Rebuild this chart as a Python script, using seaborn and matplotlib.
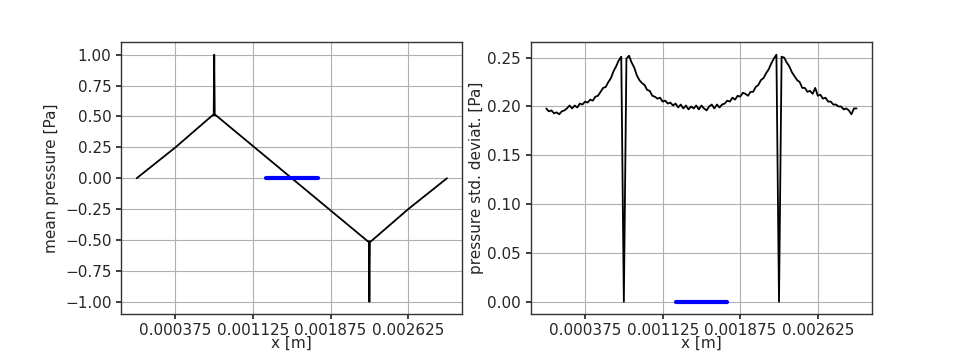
import numpy as np
import seaborn as sns
import matplotlib
matplotlib.use("Agg")
import matplotlib.pyplot as plt

# mean pressure along x (left panel)
mean_x = [0.0, 0.000375, 0.00072, 0.000735, 0.000745, 0.00075, 0.000755, 0.000765, 0.00078,
          0.0015, 0.00222, 0.002235, 0.002245, 0.00225, 0.002255, 0.002265, 0.00228, 0.002625, 0.003]
mean_p = [0.0, 0.25, 0.50, 0.51, 0.51, 1.0, 0.51, 0.51, 0.50,
          0.0, -0.50, -0.51, -0.51, -1.0, -0.51, -0.51, -0.50, -0.25, 0.0]

# pressure std. deviation, sampled every 0.000025 m from 0 to 0.003 m (right panel)
std_p = [0.198, 0.195, 0.196, 0.193, 0.194, 0.192, 0.195, 0.196, 0.198, 0.201,
         0.198, 0.201, 0.199, 0.203, 0.202, 0.205, 0.204, 0.207, 0.206, 0.210,
         0.211, 0.215, 0.219, 0.220, 0.225, 0.229, 0.236, 0.241, 0.247, 0.251,
         0.000, 0.249, 0.252, 0.245, 0.240, 0.232, 0.227, 0.224, 0.222, 0.217,
         0.216, 0.211, 0.210, 0.208, 0.209, 0.205, 0.206, 0.203, 0.204, 0.201,
         0.203, 0.199, 0.202, 0.198, 0.201, 0.197, 0.200, 0.198, 0.201, 0.197,
         0.201, 0.198, 0.196, 0.200, 0.202, 0.198, 0.202, 0.199, 0.202, 0.203,
         0.206, 0.205, 0.209, 0.207, 0.211, 0.210, 0.214, 0.213, 0.211, 0.215,
         0.215, 0.220, 0.222, 0.227, 0.229, 0.234, 0.238, 0.244, 0.249, 0.253,
         0.000, 0.251, 0.250, 0.245, 0.241, 0.235, 0.231, 0.227, 0.225, 0.219,
         0.219, 0.215, 0.216, 0.213, 0.219, 0.211, 0.212, 0.208, 0.209, 0.205,
         0.205, 0.202, 0.202, 0.200, 0.200, 0.197, 0.198, 0.196, 0.192, 0.198,
         0.198]
std_x = np.linspace(0.0, 0.003, len(std_p))

# blue marker segment
seg_x = [0.00125, 0.00175]
seg_y = [0.0, 0.0]

xticks = [0.000375, 0.001125, 0.001875, 0.002625]
xtick_labels = ["0.000375", "0.001125", "0.001875", "0.002625"]


def main():
    sns.set_theme(style="ticks", rc={
        "axes.grid": True,
        "grid.color": "#b0b0b0",
        "grid.linewidth": 0.8,
        "axes.edgecolor": "#333333",
        "axes.linewidth": 1.0,
        "xtick.labelsize": 11,
        "ytick.labelsize": 11,
        "axes.labelsize": 11,
        "xtick.major.size": 3.5,
        "ytick.major.size": 3.5,
    })
    plt.rcParams["font.family"] = ["DejaVu Sans"]

    fig, axes = plt.subplots(1, 2, figsize=(9.69, 3.53), dpi=100)
    fig.subplots_adjust(left=0.125, right=0.9, bottom=0.11, top=0.88, wspace=0.2)

    # %% left: mean pressure
    ax = axes[0]
    sns.lineplot(x=mean_x, y=mean_p, ax=ax, color="black", lw=1.3, estimator=None, sort=False)
    sns.lineplot(x=seg_x, y=seg_y, ax=ax, color="blue", lw=3, estimator=None)
    ax.set_yticks([-1.0, -0.75, -0.5, -0.25, 0.0, 0.25, 0.5, 0.75, 1.0])
    ax.set_ylabel("mean pressure [Pa]")

    # %% right: std deviation
    ax = axes[1]
    sns.lineplot(x=std_x, y=std_p, ax=ax, color="black", lw=1.3, estimator=None, sort=False)
    sns.lineplot(x=seg_x, y=seg_y, ax=ax, color="blue", lw=3, estimator=None)
    ax.set_yticks([0.0, 0.05, 0.10, 0.15, 0.20, 0.25])
    ax.set_ylabel("pressure std. deviat. [Pa]", labelpad=2)

    for ax in axes:
        ax.set_xticks(xticks)
        ax.set_xticklabels(xtick_labels)
        ax.tick_params(axis="x", pad=2.5)
        ax.set_xlabel("x [m]", labelpad=-1)
        ax.set_xlim(-0.00015, 0.00315)

    fig.savefig("out.png", dpi=100)


if __name__ == "__main__":
    main()
